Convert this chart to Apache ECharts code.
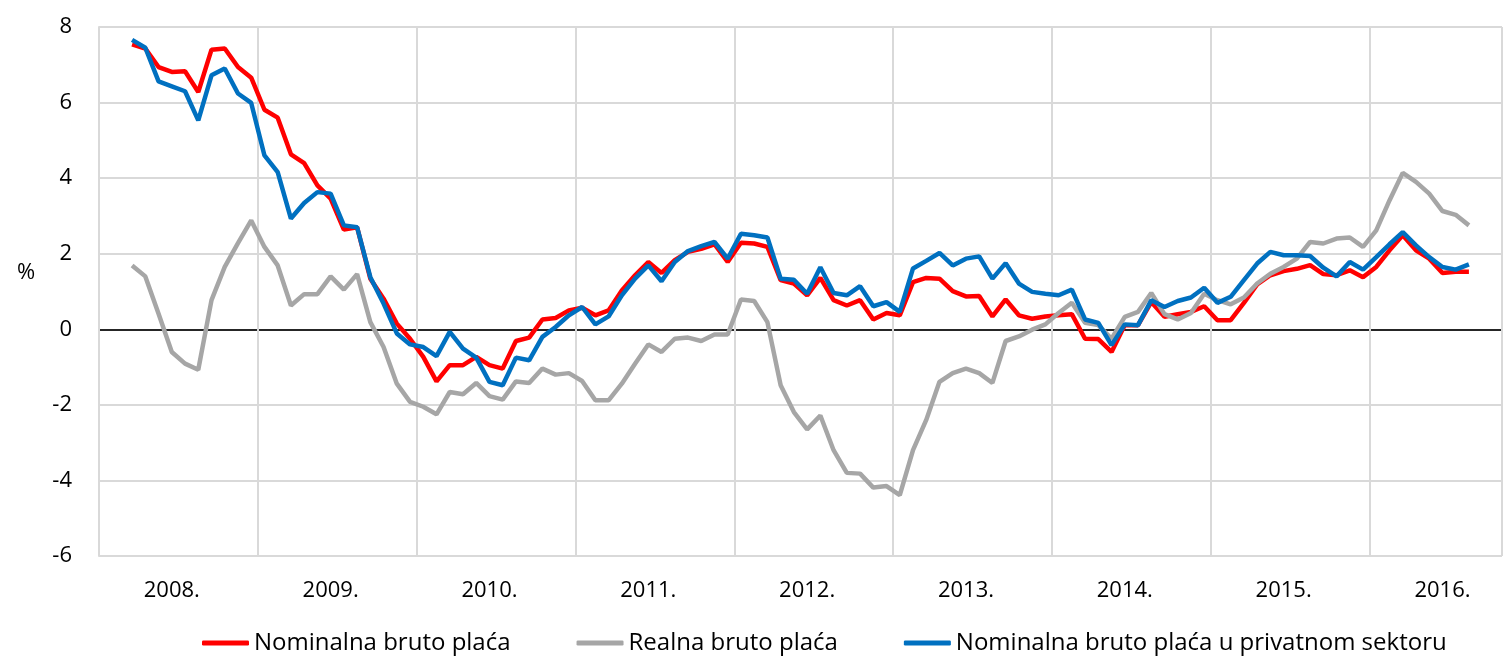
<!DOCTYPE html>
<html>
<head>
<meta charset="utf-8">
<script src="https://cdn.jsdelivr.net/npm/echarts@6/dist/echarts.min.js"></script>
<style>
   html, body { margin: 0; background: #fff; }
   #chart { width: 1506px; height: 664px; }
</style>
</head>
<body>
<div id="chart"></div>
<script>
// godine na osi x, mjesečne kategorije od siječnja 2008. do listopada 2016.
const years = ['2008', '2009', '2010', '2011', '2012', '2013', '2014', '2015', '2016'];
const monthsInLastYear = 10;
// podaci počinju u ožujku 2008. (dva prazna mjeseca)
const leadingEmpty = 2;

const yTicks = { min: -6, max: 8, step: 2 };

// Nominalna bruto plaća, godišnja stopa, %
const nominal = [
   7.54, 7.43, 6.94, 6.81, 6.83, 6.28, 7.40, 7.43, 6.94, 6.66,
   5.81, 5.60, 4.63, 4.40, 3.81, 3.46, 2.64, 2.70, 1.34, 0.81, 0.15, -0.25,
   -0.73, -1.38, -0.95, -0.95, -0.73, -0.95, -1.04, -0.31, -0.22, 0.26, 0.30, 0.50,
   0.57, 0.37, 0.50, 1.03, 1.43, 1.78, 1.49, 1.83, 2.05, 2.13, 2.25, 1.78,
   2.29, 2.27, 2.18, 1.30, 1.21, 0.90, 1.36, 0.77, 0.63, 0.77, 0.26, 0.43,
   0.37, 1.25, 1.36, 1.34, 1.01, 0.87, 0.88, 0.34, 0.79, 0.37, 0.28, 0.34,
   0.37, 0.40, -0.25, -0.26, -0.60, 0.11, 0.11, 0.72, 0.33, 0.40, 0.46, 0.61,
   0.24, 0.24, 0.70, 1.19, 1.43, 1.54, 1.60, 1.70, 1.46, 1.43, 1.56, 1.38,
   1.65, 2.09, 2.49, 2.09, 1.87, 1.49, 1.52, 1.52
];

// Realna bruto plaća
const real = [
   1.69, 1.40, 0.41, -0.60, -0.91, -1.07, 0.77, 1.65, 2.28, 2.88,
   2.18, 1.69, 0.63, 0.93, 0.93, 1.40, 1.05, 1.46, 0.19, -0.47, -1.44, -1.92,
   -2.05, -2.25, -1.66, -1.72, -1.42, -1.77, -1.86, -1.38, -1.42, -1.04, -1.20, -1.16,
   -1.37, -1.88, -1.88, -1.44, -0.91, -0.40, -0.60, -0.25, -0.22, -0.31, -0.14, -0.14,
   0.79, 0.75, 0.19, -1.48, -2.19, -2.65, -2.28, -3.20, -3.80, -3.82, -4.19, -4.15,
   -4.39, -3.20, -2.40, -1.39, -1.16, -1.04, -1.16, -1.42, -0.31, -0.19, -0.01, 0.13,
   0.43, 0.70, 0.17, 0.11, -0.25, 0.33, 0.46, 0.96, 0.40, 0.26, 0.43, 0.94,
   0.77, 0.66, 0.84, 1.21, 1.47, 1.65, 1.87, 2.31, 2.27, 2.40, 2.43, 2.18,
   2.62, 3.41, 4.14, 3.90, 3.59, 3.13, 3.03, 2.75
];

// Nominalna bruto plaća u privatnom sektoru
const privateSector = [
   7.66, 7.45, 6.56, 6.43, 6.30, 5.53, 6.72, 6.90, 6.24, 5.99,
   4.60, 4.16, 2.93, 3.34, 3.63, 3.59, 2.75, 2.70, 1.38, 0.68, -0.11, -0.40,
   -0.47, -0.71, -0.07, -0.51, -0.75, -1.39, -1.48, -0.75, -0.82, -0.20, 0.06, 0.37,
   0.59, 0.13, 0.34, 0.90, 1.34, 1.69, 1.27, 1.78, 2.07, 2.20, 2.31, 1.87,
   2.53, 2.49, 2.43, 1.34, 1.31, 0.94, 1.64, 0.96, 0.90, 1.14, 0.61, 0.72,
   0.46, 1.61, 1.81, 2.02, 1.69, 1.87, 1.93, 1.34, 1.75, 1.21, 0.99, 0.94,
   0.90, 1.05, 0.26, 0.17, -0.42, 0.13, 0.11, 0.77, 0.59, 0.75, 0.84, 1.10,
   0.70, 0.86, 1.30, 1.74, 2.05, 1.96, 1.96, 1.94, 1.63, 1.40, 1.78, 1.58,
   1.91, 2.25, 2.57, 2.22, 1.91, 1.65, 1.58, 1.72
];

const seriesNames = [
   'Nominalna bruto plaća',
   'Realna bruto plaća',
   'Nominalna bruto plaća u privatnom sektoru',
];
const seriesColors = ['#ff0000', '#a6a6a6', '#0070c0'];

// kategorije mjeseci
const months = [];
years.forEach((y, yi) => {
   const n = yi === years.length - 1 ? monthsInLastYear : 12;
   for (let m = 1; m <= n; m++) {
      months.push(`${y}-${String(m).padStart(2, '0')}`);
   }
});

const pad = (arr) => [...Array(leadingEmpty).fill(null), ...arr];

const font = 'Open Sans';
const gridColor = '#d9d9d9';

// nulta linija tamna, ostale svijetlosive
const splitColors = [];
for (let v = yTicks.min; v <= yTicks.max; v += yTicks.step) {
   splitColors.push(v === 0 ? '#262626' : gridColor);
}

const chart = echarts.init(document.getElementById('chart'), null, {
   renderer: 'canvas',
});

const option = {
   animation: false,
   title: {
      text: '%',
      left: 12,
      top: 257,
      textStyle: {
         fontFamily: font,
         fontSize: 22,
         fontWeight: 'normal',
         color: '#000',
      },
   },
   grid: {
      left: 99,
      right: 4,
      top: 27,
      bottom: 108,
   },
   legend: {
      left: 197,
      top: 626,
      icon: 'roundRect',
      itemWidth: 47,
      itemHeight: 5,
      itemGap: 66,
      textStyle: {
         fontFamily: font,
         fontSize: 24,
         color: '#000',
      },
      data: seriesNames,
   },
   xAxis: {
      type: 'category',
      data: months,
      boundaryGap: true,
      axisLine: { show: false },
      axisTick: { show: false },
      axisLabel: {
         interval: (idx) => idx % 12 === 5,
         formatter: (value) => `${value.slice(0, 4)}.`,
         margin: 24,
         fontFamily: font,
         fontSize: 22,
         color: '#000',
      },
      splitLine: {
         show: true,
         interval: (idx) => idx % 12 === 0,
         lineStyle: { color: gridColor, width: 2 },
      },
   },
   yAxis: {
      type: 'value',
      min: yTicks.min,
      max: yTicks.max,
      interval: yTicks.step,
      axisLine: { show: true, lineStyle: { color: gridColor, width: 2 } },
      axisTick: { show: false },
      axisLabel: {
         margin: 27,
         fontFamily: font,
         fontSize: 22,
         color: '#000',
      },
      splitLine: {
         show: true,
         lineStyle: { color: splitColors, width: 2 },
      },
   },
   series: [nominal, real, privateSector].map((values, i) => ({
      name: seriesNames[i],
      type: 'line',
      data: pad(values),
      symbol: 'none',
      color: seriesColors[i],
      lineStyle: { width: 4.5, color: seriesColors[i] },
      emphasis: { disabled: true },
   })),
};

chart.setOption(option);
</script>
</body>
</html>
